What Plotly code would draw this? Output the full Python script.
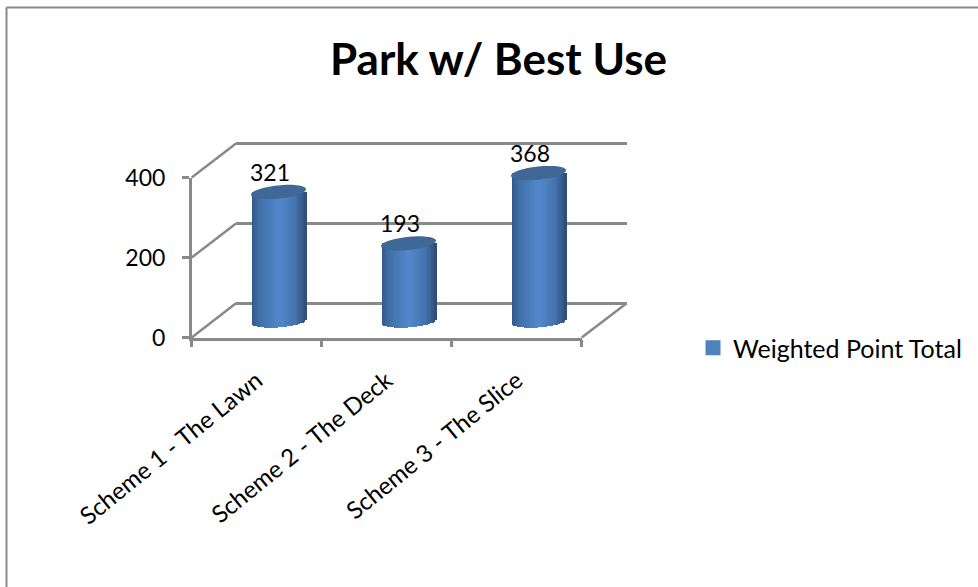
import numpy as np
import plotly.graph_objects as go

categories = ["Scheme 1 - The Lawn", "Scheme 2 - The Deck", "Scheme 3 - The Slice"]
values = [321, 193, 368]
y_ticks = [0, 200, 400]
series_name = "Weighted Point Total"
title_text = "Park w/ Best Use"

W, H = 978, 587
FONT = "Lato"
GREY = "#898989"
LW = 2.5
positions = list(range(len(categories)))


def px(x):
    return x / W


def py(y):
    return 1 - y / H


# planes of the pseudo-3D box, in window pixels
BACK = dict(l=236, r=626.7, t=143.5, b=303.3)
MID = dict(l=213.5, r=603.5, t=160.2, b=321)
FRONT = dict(l=191.7, r=581.7, t=177.6, b=337.5)

unit_px = (MID["r"] - MID["l"]) / 3
value_px = (MID["b"] - MID["t"]) / 400
back_px = (BACK["b"] - BACK["t"]) / 400
half_w = 27.5
ell_h = 6.6
shear = 0.1
back_pad = 10  # value units kept around the back wall so its end gridlines are drawn
mid_pad = 40   # value units kept below the bar plane for the rounded cylinder feet

fig = go.Figure()

# cylinder bodies: vertical slices that follow a shaded ramp
n_slices = 30
stops = [(0.0, (50, 86, 134)), (0.14, (64, 112, 170)), (0.5, (82, 137, 202)),
         (0.8, (68, 115, 172)), (1.0, (46, 76, 118))]
sx = [s[0] for s in stops]
for i in range(n_slices):
    f0 = i / n_slices
    f1 = (i + 1) / n_slices
    fm = (f0 + f1) / 2
    rgb = [int(np.interp(fm, sx, [s[1][c] for s in stops])) for c in range(3)]
    u = (fm - 0.5) * 2
    drop = ell_h * np.sqrt(max(0, 1 - u * u)) - shear * 0.8 * u * half_w
    base = -drop / value_px
    fig.add_bar(
        x=positions, y=[v - base for v in values], base=base,
        offset=(f0 - 0.5) * 2 * half_w / unit_px,
        width=min(1.4 * (f1 - f0), 1 - f0) * 2 * half_w / unit_px,
        marker=dict(color=f"rgb({rgb[0]},{rgb[1]},{rgb[2]})", line_width=0),
        xaxis="x2", yaxis="y2", showlegend=False, hoverinfo="skip",
    )

# legend-only entry for the series
fig.add_scatter(
    x=[None], y=[None], mode="markers", name=series_name, xaxis="x2", yaxis="y2",
    marker=dict(symbol="square", size=15, color="#4F81BD"), showlegend=True,
)
# carrier traces so the front and back axes exist
fig.add_scatter(x=categories, y=[None] * 3, xaxis="x3", yaxis="y3", showlegend=False, hoverinfo="skip")
fig.add_scatter(x=[None], y=[None], xaxis="x", yaxis="y", showlegend=False, hoverinfo="skip")

shapes = []
# chart frame: top and left edges only
shapes.append(dict(type="line", xref="paper", yref="paper", x0=px(6.5), x1=px(978), y0=py(7.5), y1=py(7.5),
                   line=dict(color=GREY, width=2)))
shapes.append(dict(type="line", xref="paper", yref="paper", x0=px(6.5), x1=px(6.5), y0=py(7.5), y1=py(587),
                   line=dict(color=GREY, width=2)))
# diagonals linking the front axis to the back wall
for yf, yb in zip([FRONT["b"], (FRONT["b"] + FRONT["t"]) / 2, FRONT["t"]],
                  [BACK["b"], (BACK["b"] + BACK["t"]) / 2, BACK["t"]]):
    shapes.append(dict(type="line", xref="paper", yref="paper", x0=px(FRONT["l"]), x1=px(BACK["l"]),
                       y0=py(yf), y1=py(yb), line=dict(color=GREY, width=LW), layer="below"))
shapes.append(dict(type="line", xref="paper", yref="paper", x0=px(FRONT["r"]), x1=px(BACK["r"]),
                   y0=py(FRONT["b"]), y1=py(BACK["b"]), line=dict(color=GREY, width=LW), layer="below"))

# elliptical caps anchored at each value
ts = np.linspace(0, 2 * np.pi, 60)
cap_path = "M" + "L".join(
    f"{half_w * np.cos(t):.2f},{ell_h * np.sin(t) + shear * half_w * np.cos(t):.2f}" for t in ts
) + "Z"
for p, v in zip(positions, values):
    shapes.append(dict(type="path", xref="x2", yref="y2", xsizemode="pixel", ysizemode="pixel",
                       xanchor=p, yanchor=v, path=cap_path, fillcolor="#3F6897",
                       line=dict(width=0), layer="above"))

annotations = [
    dict(x=p, y=v, xref="x2", yref="y2", text=str(v), showarrow=False, xshift=-9, yshift=20,
         font=dict(family=FONT, size=23, color="black"))
    for p, v in zip(positions, values)
]

fig.update_layout(
    width=W, height=H, autosize=False,
    margin=dict(l=0, r=0, t=0, b=0, autoexpand=False),
    paper_bgcolor="white", plot_bgcolor="rgba(0,0,0,0)",
    barmode="overlay", bargap=0,
    font=dict(family=FONT, size=23, color="black"),
    title=dict(text=f"<b>{title_text}</b>", x=498.5 / W, xanchor="center", y=py(60), yanchor="middle",
               font=dict(family=FONT, size=44, color="black")),
    showlegend=True,
    legend=dict(x=px(693), y=py(348), xanchor="left", yanchor="middle", bgcolor="rgba(0,0,0,0)",
                font=dict(family=FONT, size=25), itemclick=False, itemdoubleclick=False),
    shapes=shapes, annotations=annotations,
    # back wall
    xaxis=dict(domain=[px(BACK["l"]), px(BACK["r"])], range=[0, 1], visible=False, anchor="y"),
    yaxis=dict(domain=[py(BACK["b"] + back_pad * back_px), py(BACK["t"] - back_pad * back_px)],
               range=[-back_pad, 400 + back_pad], tickvals=y_ticks, showgrid=True,
               gridcolor=GREY, gridwidth=LW, zeroline=False, showticklabels=False, ticks="", anchor="x"),
    # bar plane
    xaxis2=dict(domain=[px(MID["l"]), px(MID["r"])], range=[-0.5, 2.5], visible=False, anchor="y2"),
    yaxis2=dict(domain=[py(MID["b"] + mid_pad * value_px), py(MID["t"])], range=[-mid_pad, 400],
                visible=False, anchor="x2"),
    # front axes
    xaxis3=dict(domain=[px(FRONT["l"]), px(FRONT["r"])], type="category", categoryorder="array",
                categoryarray=categories, range=[-0.5, 2.5], tickson="boundaries", ticks="outside", ticklen=7,
                tickwidth=LW, tickcolor=GREY, showline=True, linecolor=GREY, linewidth=LW, showgrid=False,
                tickangle=-39, ticklabelstandoff=17, tickfont=dict(family=FONT, size=24), anchor="y3"),
    yaxis3=dict(domain=[py(FRONT["b"]), py(FRONT["t"])], range=[0, 400], tickvals=y_ticks, ticks="outside",
                ticklen=7, tickwidth=LW, tickcolor=GREY, showline=True, linecolor=GREY, linewidth=LW,
                showgrid=False, zeroline=False, ticklabelstandoff=12,
                tickfont=dict(family=FONT, size=23), anchor="x3"),
)

fig.write_html("out.html", config=dict(displayModeBar=False),
               post_script="document.body.style.margin='0';")
